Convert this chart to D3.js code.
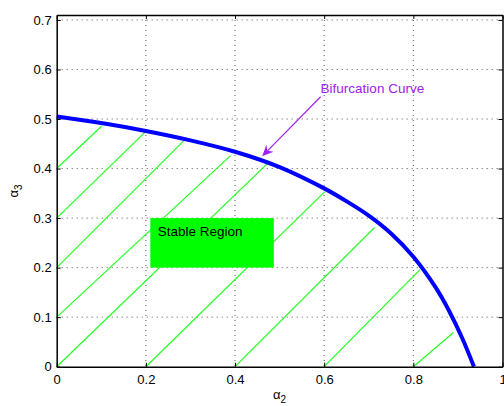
<!DOCTYPE html>
<html>
<head>
<meta charset="utf-8">
<script src="https://cdn.jsdelivr.net/npm/d3@7"></script>
<style>
  body { margin: 0; background: #fff; }
  svg { display: block; font-family: "Liberation Sans", Arial, sans-serif; }
</style>
</head>
<body>
<svg id="chart" width="504" height="406"></svg>
<script>
// ---------- DATA ----------
const curveX = [0, 0.1, 0.2, 0.3, 0.4, 0.5, 0.6, 0.65, 0.7, 0.75, 0.8, 0.85, 0.88, 0.91, 0.936];
const curveY = [0.505, 0.492, 0.476, 0.457, 0.434, 0.403, 0.36, 0.334, 0.305, 0.269, 0.222, 0.16, 0.113, 0.057, 0];

// hatch segments: start and end points
const hatchX0 = [0, 0, 0, 0, 0, 0.2, 0.4, 0.6, 0.8];
const hatchY0 = [0.4, 0.3, 0.2, 0.1, 0, 0, 0, 0, 0];
const hatchX1 = [0.101, 0.2, 0.288, 0.39, 0.476, 0.601, 0.713, 0.815, 0.89];
const hatchY1 = [0.486, 0.475, 0.459, 0.426, 0.413, 0.353, 0.281, 0.196, 0.069];

const xTicks = [0, 0.2, 0.4, 0.6, 0.8, 1];
const xTickLabels = ['0', '0.2', '0.4', '0.6', '0.8', '1'];
const yTicks = [0, 0.1, 0.2, 0.3, 0.4, 0.5, 0.6, 0.7];
const yTickLabels = ['0', '0.1', '0.2', '0.3', '0.4', '0.5', '0.6', '0.7'];

const stableBox = { x0: 0.21, x1: 0.487, y0: 0.2, y1: 0.3, label: 'Stable Region' };
const bifNote = { text: 'Bifurcation Curve', tailX: 0.592, tailY: 0.545, tipX: 0.461, tipY: 0.425 };

// ---------- CHART ----------
(function draw() {
  const svg = d3.select('#chart');
  const margin = { top: 15, right: 1.5, bottom: 39.3, left: 56.7 };
  const width = +svg.attr('width');
  const height = +svg.attr('height');
  const w = width - margin.left - margin.right;
  const h = height - margin.top - margin.bottom;

  const x = d3.scaleLinear().domain([0, 1]).range([0, w]);
  const y = d3.scaleLinear().domain([0, 0.71]).range([h, 0]);

  const g = svg.append('g').attr('transform', `translate(${margin.left},${margin.top})`);

  // grid (dotted)
  g.append('g')
    .selectAll('line.gx')
    .data(xTicks.filter((d) => d > 0 && d < 1))
    .join('line')
    .attr('x1', (d) => x(d)).attr('x2', (d) => x(d))
    .attr('y1', 0).attr('y2', h)
    .attr('stroke', '#555').attr('stroke-width', 1)
    .attr('stroke-dasharray', '1,4');
  g.append('g')
    .selectAll('line.gy')
    .data(yTicks.filter((d) => d > 0))
    .join('line')
    .attr('x1', 0).attr('x2', w)
    .attr('y1', (d) => y(d)).attr('y2', (d) => y(d))
    .attr('stroke', '#555').attr('stroke-width', 1)
    .attr('stroke-dasharray', '1,4');

  // hatch lines
  g.append('g')
    .selectAll('line')
    .data(hatchX0.map((d, i) => i))
    .join('line')
    .attr('x1', (i) => x(hatchX0[i])).attr('y1', (i) => y(hatchY0[i]))
    .attr('x2', (i) => x(hatchX1[i])).attr('y2', (i) => y(hatchY1[i]))
    .attr('stroke', '#22ff22').attr('stroke-width', 1.2);

  // stable region box
  g.append('rect')
    .attr('x', x(stableBox.x0)).attr('y', y(stableBox.y1))
    .attr('width', x(stableBox.x1) - x(stableBox.x0))
    .attr('height', y(stableBox.y0) - y(stableBox.y1))
    .attr('fill', '#00ff00');
  g.append('text')
    .attr('x', x(stableBox.x0) + 7.5).attr('y', y(stableBox.y1) + 18.3)
    .attr('font-size', 13.5).attr('fill', '#000')
    .text(stableBox.label);

  // bifurcation curve
  const line = d3.line()
    .x((i) => x(curveX[i]))
    .y((i) => y(curveY[i]))
    .curve(d3.curveCatmullRom);
  g.append('path')
    .datum(curveX.map((d, i) => i))
    .attr('d', line)
    .attr('fill', 'none')
    .attr('stroke', '#0000ff')
    .attr('stroke-width', 4);

  // annotation arrow
  const purple = '#a020f0';
  const tx = x(bifNote.tailX), ty = y(bifNote.tailY);
  const px = x(bifNote.tipX), py = y(bifNote.tipY);
  const len = Math.hypot(px - tx, py - ty);
  const ux = (px - tx) / len, uy = (py - ty) / len;
  const nx = -uy, ny = ux;
  const hl = 11, hw = 5, back = 3.5;
  g.append('line')
    .attr('x1', tx).attr('y1', ty)
    .attr('x2', px - ux * (hl - back)).attr('y2', py - uy * (hl - back))
    .attr('stroke', purple).attr('stroke-width', 1.2);
  const head = [
    [px, py],
    [px - ux * hl + nx * hw, py - uy * hl + ny * hw],
    [px - ux * (hl - back), py - uy * (hl - back)],
    [px - ux * hl - nx * hw, py - uy * hl - ny * hw],
  ];
  g.append('path')
    .attr('d', 'M' + head.map((p) => p.join(',')).join('L') + 'Z')
    .attr('fill', purple);
  g.append('text')
    .attr('x', tx).attr('y', ty - 4)
    .attr('font-size', 13.5).attr('fill', purple)
    .text(bifNote.text);

  // axes with inward ticks
  const axB = d3.axisBottom(x).tickValues(xTicks)
    .tickFormat((d, i) => xTickLabels[i]).tickSizeInner(-4).tickSizeOuter(0).tickPadding(8);
  const axL = d3.axisLeft(y).tickValues(yTicks)
    .tickFormat((d, i) => yTickLabels[i]).tickSizeInner(-4).tickSizeOuter(0).tickPadding(5);
  const axT = d3.axisTop(x).tickValues(xTicks).tickFormat('').tickSizeInner(-4).tickSizeOuter(0);
  const axR = d3.axisRight(y).tickValues(yTicks).tickFormat('').tickSizeInner(-4).tickSizeOuter(0);

  const styleAxis = (sel) => {
    sel.selectAll('path').attr('stroke', '#000').attr('stroke-width', 1.5);
    sel.selectAll('line').attr('stroke', '#000').attr('stroke-width', 1);
    sel.selectAll('text').attr('fill', '#000').attr('font-size', 13)
      .attr('font-family', '"Liberation Sans", Arial, sans-serif');
  };
  g.append('g').attr('transform', `translate(0,${h})`).call(axB).call(styleAxis);
  g.append('g').call(axL).call(styleAxis);
  g.append('g').call(axT).call(styleAxis);
  g.append('g').attr('transform', `translate(${w},0)`).call(axR).call(styleAxis);

  // axis labels
  const xl = g.append('text')
    .attr('x', x(0.5)).attr('y', h + 32)
    .attr('text-anchor', 'middle').attr('font-size', 13).attr('fill', '#000');
  xl.append('tspan').text('α');
  xl.append('tspan').attr('font-size', 10).attr('dy', 4).text('2');

  const yl = g.append('text')
    .attr('transform', `translate(${-39},${y(0.355)}) rotate(-90)`)
    .attr('text-anchor', 'middle').attr('font-size', 13).attr('fill', '#000');
  yl.append('tspan').text('α');
  yl.append('tspan').attr('font-size', 10).attr('dy', 4).text('3');
})();
</script>
</body>
</html>
